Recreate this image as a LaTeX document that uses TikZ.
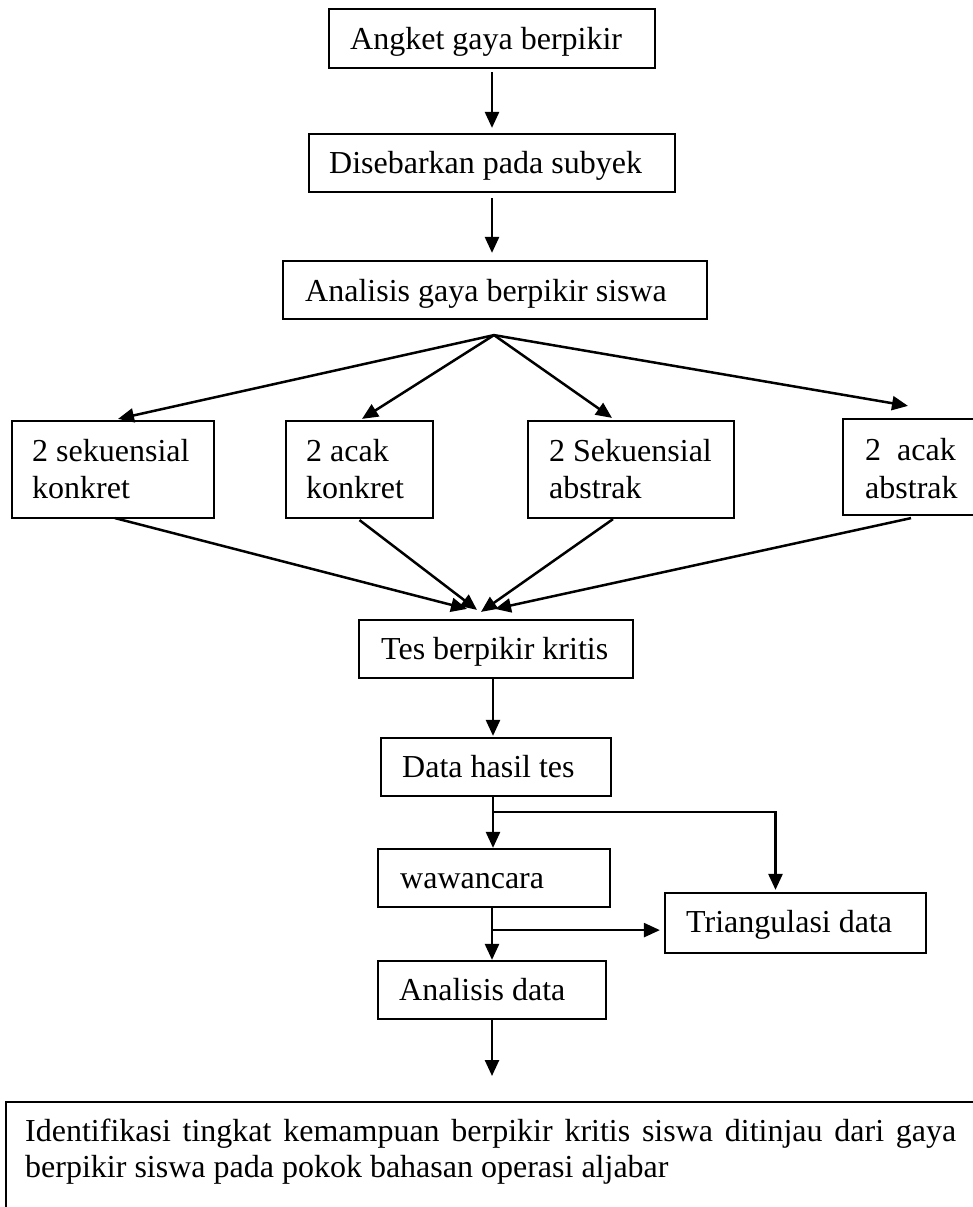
\documentclass[tikz,border=0pt]{standalone}
\usepackage{fontspec}
\setmainfont{Liberation Serif}
\usetikzlibrary{arrows.meta}
\begin{document}
\begin{tikzpicture}[x=1pt,y=-1pt,
 box/.style={draw, line width=2.2pt, rectangle, inner sep=0pt},
 txt/.style={anchor=base west, inner sep=0pt, font=\fontsize{32}{36}\selectfont},
 arr/.style={line width=2.5pt, -{Triangle[length=16pt,width=14pt]}}]
\useasboundingbox (0,0) rectangle (973,1207);

% boxes
\node[box, minimum width=326pt, minimum height=59pt] (b1) at (492,38.5) {};
\node[box, minimum width=366pt, minimum height=58pt] (b2) at (492,163) {};
\node[box, minimum width=424pt, minimum height=58pt] (b3) at (495,290) {};
\node[box, minimum width=202pt, minimum height=97pt] (A) at (113,469.5) {};
\node[box, minimum width=147pt, minimum height=97pt] (B) at (359.5,469.5) {};
\node[box, minimum width=206pt, minimum height=97pt] (C) at (631,469.5) {};
\node[box, minimum width=160pt, minimum height=96pt] (D) at (923,467) {};
\node[box, minimum width=274pt, minimum height=58pt] (tes) at (496,649) {};
\node[box, minimum width=230pt, minimum height=58pt] (data) at (496,767) {};
\node[box, minimum width=232pt, minimum height=58pt] (waw) at (494,878) {};
\node[box, minimum width=261pt, minimum height=60pt] (tri) at (795.5,923) {};
\node[box, minimum width=228pt, minimum height=58pt] (anal) at (492,990) {};
\node[box, minimum width=1000pt, minimum height=130pt, anchor=north west] (fin) at (5,1101) {};

% texts
\node[txt] (t1) at (350,49) {Angket gaya berpikir};
\node[txt] (t2) at (329,173) {Disebarkan pada subyek};
\node[txt] (t3) at (305,301) {Analisis gaya berpikir siswa};
\node[txt] (tA1) at (32,461) {2 sekuensial};
\node[txt] (tA2) at (32,498) {konkret};
\node[txt] (tB1) at (306,461) {2 acak};
\node[txt] (tB2) at (306,498) {konkret};
\node[txt] (tC1) at (549,461) {2 Sekuensial};
\node[txt] (tC2) at (549,498) {abstrak};
\node[txt] (tD1) at (865,460) {2\ \ acak};
\node[txt] (tD2) at (865,498) {abstrak};
\node[txt] (ttes) at (381,659) {Tes berpikir kritis};
\node[txt] (tdata) at (402,777) {Data hasil tes};
\node[txt] (twaw) at (400,888) {wawancara};
\node[txt] (ttri) at (686,932) {Triangulasi data};
\node[txt] (tanal) at (399,1000) {Analisis data};
\node[txt] (tf1) at (25,1141) {\makebox[931pt][s]{Identifikasi tingkat kemampuan berpikir kritis siswa ditinjau dari gaya}};
\node[txt] (tf2) at (25,1177) {berpikir siswa pada pokok bahasan operasi aljabar};

% connectors
\draw[arr] ([yshift=-3pt]b1.south) -- ([yshift=5pt]b2.north);
\draw[arr] ([yshift=-5pt]b2.south) -- ([yshift=7pt]b2.south |- b3.north);

\coordinate (apex) at ([xshift=-1pt,yshift=-15pt]b3.south);
\draw[arr] (apex) -- ([xshift=5pt,yshift=1pt]A.north);
\draw[arr] (apex) -- ([xshift=2.5pt,yshift=1pt]B.north);
\draw[arr] (apex) -- ([xshift=-19pt,yshift=2pt]C.north);
\draw[arr] (apex) -- ([xshift=-15pt,yshift=12pt]D.north);

\draw[arr] ([xshift=2pt,yshift=1pt]A.south) -- ([xshift=-29pt,yshift=10pt]tes.north);
\draw[arr] ([yshift=-1pt]B.south) -- ([xshift=-19pt,yshift=9pt]tes.north);
\draw[arr] ([xshift=-18pt]C.south) -- ([xshift=-15pt,yshift=7pt]tes.north);
\draw[arr] ([xshift=-12pt,yshift=-2pt]D.south) -- ([xshift=-1pt,yshift=10pt]tes.north);

\draw[arr] ([xshift=-3pt]tes.south) -- ([xshift=-3pt,yshift=1pt]data.north);
\draw[arr] ([xshift=-3pt]data.south) -- ([xshift=-3pt]data.south |- waw.north);
\coordinate (br1) at ([xshift=-3pt,yshift=-15pt]data.south);
\draw[arr] (br1) -| ([xshift=-20pt,yshift=2pt]tri.north);

\draw[arr] ([xshift=-2pt]waw.south) -- ([xshift=-2pt]waw.south |- anal.north);
\coordinate (br2) at ([xshift=-2pt,yshift=-22pt]waw.south);
\draw[arr] (br2) -- ([xshift=-4pt]br2 -| tri.west);

\draw[arr] (anal.south) -- ([yshift=25pt]anal.south |- fin.north);
\end{tikzpicture}
\end{document}
